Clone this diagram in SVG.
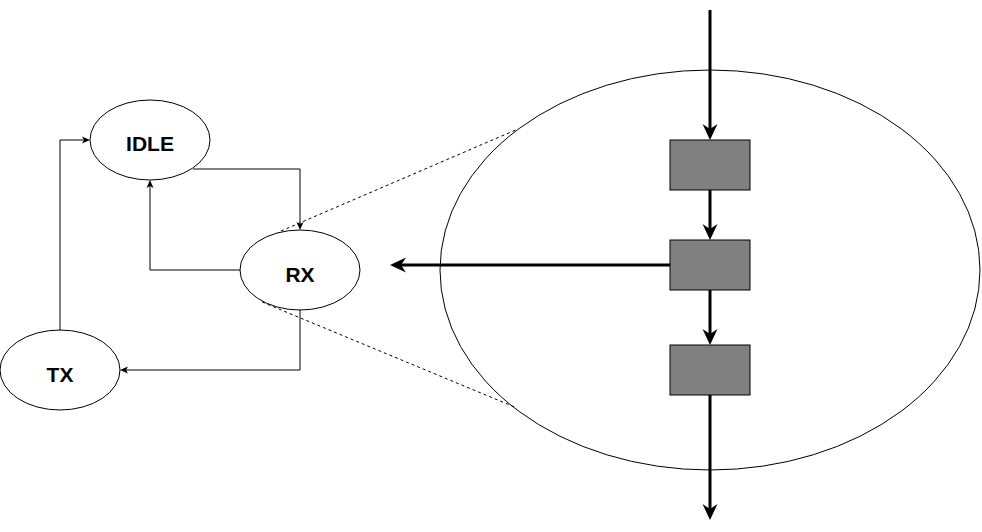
<svg xmlns="http://www.w3.org/2000/svg" width="982" height="532" viewBox="0 0 982 532">
<defs>
<style>
.node{fill:#fff;stroke:#000;stroke-width:1}
.lbl{font-family:"Liberation Sans",Arial,sans-serif;font-weight:bold;font-size:21px;text-anchor:middle;fill:#000}
.thin{fill:none;stroke:#000;stroke-width:1;marker-end:url(#a1)}
.thick{fill:none;stroke:#000;stroke-width:3;marker-end:url(#a2)}
.dash{fill:none;stroke:#000;stroke-width:1;stroke-dasharray:3 3}
.box{fill:#808080;stroke:#000;stroke-width:1}
</style>
<marker id="a1" markerUnits="userSpaceOnUse" markerWidth="9" markerHeight="8" refX="2" refY="3.5" orient="auto" overflow="visible">
<path d="M0,0 L8,3.5 L0,7 L2,3.5 Z" fill="#000"/>
</marker>
<marker id="a2" markerUnits="userSpaceOnUse" markerWidth="17" markerHeight="16" refX="5" refY="7.5" orient="auto" overflow="visible">
<path d="M0,0 L16,7.5 L0,15 L5,7.5 Z" fill="#000"/>
</marker>
</defs>
<rect width="982" height="532" fill="#fff"/>
<g id="zoom-ellipse">
<ellipse cx="710" cy="270" rx="270" ry="200" fill="none" stroke="#000" stroke-width="1"/>
</g>
<g id="connectors">
<path class="thin" d="M193,169 H300 V224"/>
<path class="thin" d="M240,270 H150 V186"/>
<path class="thin" d="M300,310 V370 H126"/>
<path class="thin" d="M60,330 V140 H84"/>
<path class="dash" d="M281,231 L518,129"/>
<path class="dash" d="M262,302 L517,408"/>
<path class="thick" d="M710,10 V129"/>
<path class="thick" d="M710,190 V229"/>
<path class="thick" d="M670,265 H401"/>
<path class="thick" d="M710,290 V334"/>
<path class="thick" d="M710,395 V509"/>
</g>
<g id="IDLE">
<ellipse class="node" cx="150" cy="140" rx="60" ry="40"/>
<text class="lbl" x="150" y="151">IDLE</text>
</g>
<g id="RX">
<ellipse class="node" cx="300" cy="270" rx="60" ry="40"/>
<text class="lbl" x="300" y="281.5">RX</text>
</g>
<g id="TX">
<ellipse class="node" cx="60" cy="370" rx="60" ry="40"/>
<text class="lbl" x="60" y="381.5">TX</text>
</g>
<g id="box1"><rect class="box" x="670" y="140" width="80" height="50"/></g>
<g id="box2"><rect class="box" x="670" y="240" width="80" height="50"/></g>
<g id="box3"><rect class="box" x="670" y="345" width="80" height="50"/></g>
</svg>
